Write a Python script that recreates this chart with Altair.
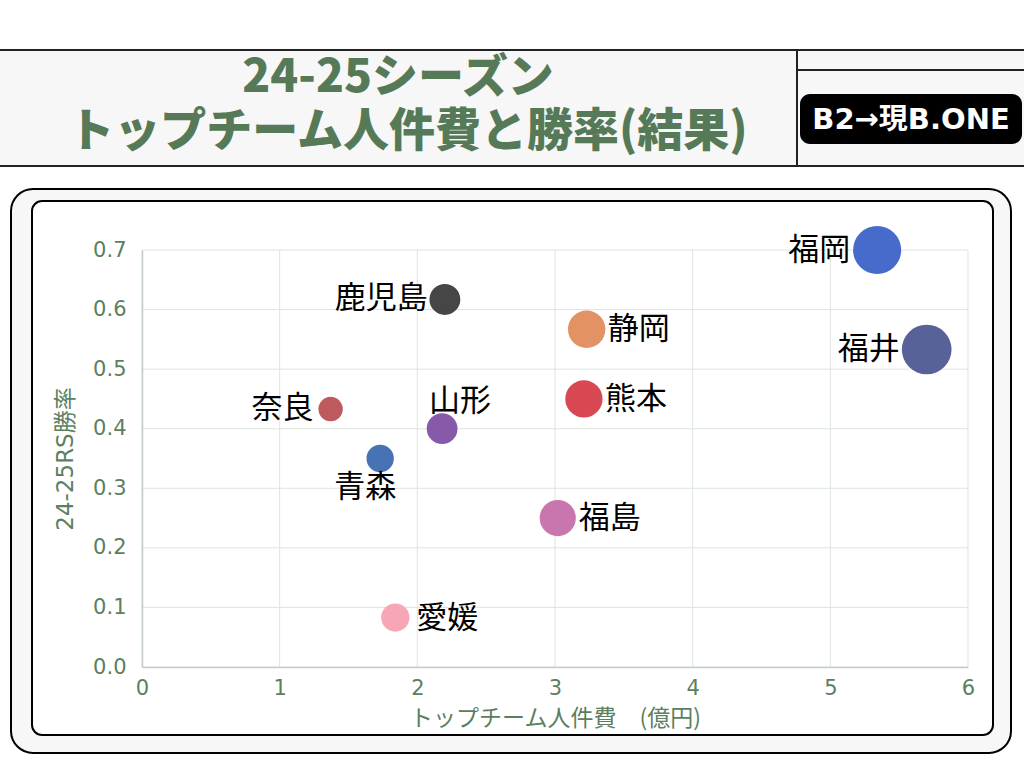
import altair as alt
import pandas as pd

# ---------------- data ----------------
teams = ["福岡", "福井", "鹿児島", "静岡", "熊本", "奈良", "山形", "青森", "福島", "愛媛"]
payroll = [5.34, 5.70, 2.20, 3.23, 3.21, 1.37, 2.18, 1.73, 3.02, 1.84]
win_rate = [0.700, 0.533, 0.617, 0.567, 0.450, 0.433, 0.400, 0.350, 0.250, 0.083]
colors = ["#3d63c7", "#4f5892", "#3c3c3c", "#e28c5c", "#d63e4a",
          "#ba5055", "#8050a4", "#3d6bb0", "#c66fab", "#f5a1b0"]

x_ticks = [0, 1, 2, 3, 4, 5, 6]
y_ticks = [0.0, 0.1, 0.2, 0.3, 0.4, 0.5, 0.6, 0.7]

labels_right = ["静岡", "熊本", "福島", "愛媛"]
labels_left_big = ["福岡", "福井"]
labels_left_small = ["鹿児島", "奈良"]
labels_above = ["山形"]
labels_below = ["青森"]

title_line1 = "24-25シーズン"
title_line2 = "トップチーム人件費と勝率(結果)"
badge_text = "B2→現B.ONE"
x_title = "トップチーム人件費　(億円)"
y_title = "24-25RS勝率"

df = pd.DataFrame({"team": teams, "payroll": payroll, "win": win_rate})
xt = pd.DataFrame({"payroll": x_ticks})
yt = pd.DataFrame({"win": y_ticks})
one = pd.DataFrame({"k": [0]})

# ---------------- layout ----------------
W, H = 826, 417
OX, OY = 142, 250
GREEN = "#5b7f5f"
JP = "Noto Sans CJK JP"
NUM = "DejaVu Sans, Noto Sans CJK JP"


def px(v):
    return v - OX


def py(v):
    return v - OY


def rect(x1, x2, y1, y2, **kw):
    return alt.Chart(one).mark_rect(**kw).encode(
        x=alt.value(px(x1)), x2=alt.value(px(x2)),
        y=alt.value(py(y1)), y2=alt.value(py(y2)))


def hline(x1, x2, y, **kw):
    return alt.Chart(one).mark_rule(**kw).encode(
        x=alt.value(px(x1)), x2=alt.value(px(x2)), y=alt.value(py(y)))


def vline(x, y1, y2, **kw):
    return alt.Chart(one).mark_rule(**kw).encode(
        x=alt.value(px(x)), y=alt.value(py(y1)), y2=alt.value(py(y2)))


def label(text, x, y, **kw):
    return alt.Chart(one).mark_text(text=text, align="center", baseline="middle", **kw).encode(
        x=alt.value(px(x)), y=alt.value(py(y)))


deco = [
    rect(0, 1024, 50, 166, fill="#f7f7f7"),
    hline(0, 1024, 50, stroke="#222222", strokeWidth=2),
    hline(0, 1024, 166, stroke="#222222", strokeWidth=2),
    vline(797, 50, 166, stroke="#222222", strokeWidth=2),
    hline(797, 1024, 70, stroke="#222222", strokeWidth=2),
    label(title_line1, 398, 78, font=JP, fontSize=46, fontWeight=900, color="#567a58"),
    label(title_line2, 408, 132, font=JP, fontSize=46, fontWeight=900, color="#567a58"),
    rect(800, 1022, 94, 144, fill="black", cornerRadius=10),
    label(badge_text, 911, 120, font="DejaVu Sans, Noto Sans CJK JP", fontSize=29,
          fontWeight="bold", color="white"),
    rect(11, 1011, 189, 753, fill="#f7f7f7", stroke="black", strokeWidth=2, cornerRadius=22),
    rect(32, 993, 201, 735, fill="white", stroke="black", strokeWidth=2, cornerRadius=10),
]

xscale = alt.Scale(domain=[0, 6], nice=False)
yscale = alt.Scale(domain=[0, 0.7], nice=False)

xaxis = alt.Axis(values=x_ticks, title=x_title, grid=False, ticks=False, labelFlush=False,
                 labelFont=NUM, labelFontSize=21, labelColor=GREEN, labelPadding=10,
                 domainColor="#c3cec5", domainWidth=1.5,
                 titleFont=JP, titleFontSize=23, titleFontWeight="normal",
                 titleColor=GREEN, titlePadding=9, zindex=1)
yaxis = alt.Axis(values=y_ticks, format=".1f", title=y_title, grid=False, ticks=False,
                 labelFlush=False,
                 labelFont=NUM, labelFontSize=21, labelColor=GREEN, labelPadding=16,
                 domainColor="#c3cec5", domainWidth=1.5,
                 titleFont=NUM, titleFontSize=23, titleFontWeight="normal",
                 titleColor=GREEN, titlePadding=15, zindex=1)

X = alt.X("payroll:Q", scale=xscale, axis=xaxis, title=x_title)
Y = alt.Y("win:Q", scale=yscale, axis=yaxis, title=y_title)

grid_x = alt.Chart(xt).mark_rule(stroke="#dde5de", strokeWidth=1).encode(
    x=X, y=alt.value(0), y2=alt.value(H))
grid_y = alt.Chart(yt).mark_rule(stroke="#dde5de", strokeWidth=1).encode(
    y=Y, x=alt.value(0), x2=alt.value(W))

bubbles = alt.Chart(df).mark_circle(opacity=0.95).encode(
    x=X, y=Y,
    size=alt.Size("payroll:Q", scale=alt.Scale(domain=[0, 6], range=[0, 2600]), legend=None),
    color=alt.Color("team:N", scale=alt.Scale(domain=teams, range=colors), legend=None),
)


def names(group, **kw):
    return alt.Chart(df).mark_text(font=JP, fontSize=31, color="black", baseline="middle", **kw).encode(
        x=X, y=Y, text="team:N",
    ).transform_filter(alt.FieldOneOfPredicate(field="team", oneOf=group))


texts = [
    names(labels_right, align="left", dx=21, dy=1),
    names(labels_left_big, align="right", dx=-27, dy=1),
    names(labels_left_small, align="right", dx=-17, dy=0),
    names(labels_above, align="center", dx=18, dy=-27),
    names(labels_below, align="center", dx=-15, dy=29),
]

chart = alt.layer(*deco, grid_x, grid_y, bubbles, *texts).properties(
    width=W, height=H,
    padding={"left": OX, "top": OY, "right": 1024 - OX - W, "bottom": 768 - OY - H},
    autosize=alt.AutoSizeParams(type="none"),
    background="white",
).configure_view(strokeWidth=0)

chart.save("out.html", embed_options={"renderer": "svg", "actions": False})
